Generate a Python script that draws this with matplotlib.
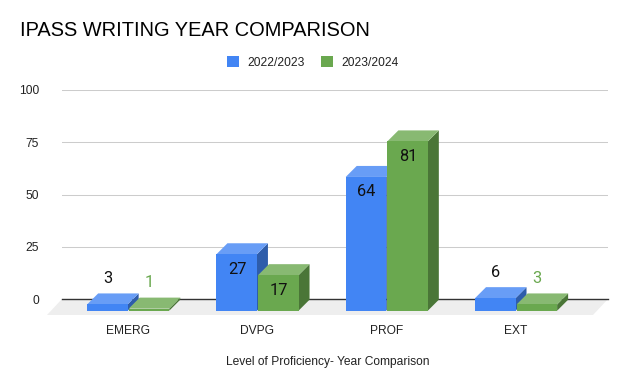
import matplotlib
matplotlib.use("Agg")
import matplotlib.pyplot as plt
from matplotlib.patches import Patch

categories = ["EMERG", "DVPG", "PROF", "EXT"]
values_2223 = [3, 27, 64, 6]
values_2324 = [1, 17, 81, 3]
series_names = ["2022/2023", "2023/2024"]
yticks = [0, 25, 50, 75, 100]

W, H = 628, 387
# axes box in pixels
left, right, top, bottom = 62, 608, 90, 299

fig = plt.figure(figsize=(W / 100, H / 100), dpi=100)
ax = fig.add_axes([left / W, 1 - bottom / H, (right - left) / W, (bottom - top) / H])
ax.set_xlim(-0.512, 3.711)
ax.set_ylim(0, 100)

px_x = (right - left) / (3.711 + 0.512)
px_y = (bottom - top) / 100.0

depth_x = 11 / px_x
depth_y = 11 / px_y
base = -11.7 / px_y
bar_w = 40.5 / px_x
offset = 20.8 / px_x


def draw_bar(x, v, front, roof, side, label_col):
    x0 = x - bar_w / 2
    x1 = x + bar_w / 2
    y1 = base + v
    ax.fill([x1, x1 + depth_x, x1 + depth_x, x1],
            [base, base + depth_y, y1 + depth_y, y1],
            color=side, lw=0, clip_on=False, zorder=3)
    ax.fill([x0, x0 + depth_x, x1 + depth_x, x1],
            [y1, y1 + depth_y, y1 + depth_y, y1],
            color=roof, lw=0, clip_on=False, zorder=3)
    ax.fill([x0, x1, x1, x0], [base, base, y1, y1],
            color=front, lw=0, clip_on=False, zorder=3)
    # big bars carry the label inside, small ones above
    if v > 10:
        ax.annotate(str(v), (x, y1), xytext=(0.3, -15 * 0.72), textcoords="offset points",
                    ha="center", va="center", fontsize=11.8, family="Roboto",
                    color="#111111", zorder=5, annotation_clip=False)
    else:
        ax.annotate(str(v), (x, y1), xytext=(0, 26 * 0.72), textcoords="offset points",
                    ha="center", va="center", fontsize=11.8, family="Roboto",
                    color=label_col, zorder=5, annotation_clip=False)


# grid, floor, baseline
ax.grid(axis="y", color="#cccccc", lw=0.75)
ax.set_axisbelow(True)
floor_y = -16 / px_y
xl = ax.get_xlim()
ax.fill([xl[0], xl[1], xl[1] - 15 / px_x, xl[0] - 15 / px_x],
        [0, 0, floor_y, floor_y], color="#eeeeee", lw=0, clip_on=False, zorder=2)
ax.axhline(0, color="#333333", lw=1.0, zorder=2.5, clip_on=False)

for i in range(len(categories)):
    draw_bar(i - offset, values_2223[i], "#4285f4", "#689df6", "#2e5dab", "#111111")
    draw_bar(i + offset, values_2324[i], "#6aa84f", "#88b972", "#4a7637", "#6aa84f")

for s in ax.spines.values():
    s.set_visible(False)

ax.set_xticks(range(len(categories)))
ax.set_xticklabels(categories, family="Liberation Sans", fontsize=8.64, color="#222222")
ax.set_yticks(yticks)
ax.set_yticklabels([str(t) for t in yticks], family="Liberation Sans", fontsize=8.64, color="#222222")
ax.tick_params(axis="x", length=0, pad=18.5)
ax.tick_params(axis="y", length=0, pad=16.5)
ax.set_xlabel("Level of Proficiency- Year Comparison", family="Liberation Sans", fontsize=8.64,
              color="#222222", labelpad=14.2, x=0.487)

fig.text(20 / W, 1 - 30 / H, "IPASS WRITING YEAR COMPARISON", family="Liberation Sans",
         fontsize=14.4, color="black", va="center", ha="left")

handles = [Patch(color="#4285f4", lw=0), Patch(color="#6aa84f", lw=0)]
fig.legend(handles, series_names, loc="center", bbox_to_anchor=(313 / W, 1 - 62.5 / H),
           ncols=2, frameon=False, prop={"family": "Liberation Sans", "size": 8.64},
           labelcolor="#222222", handlelength=1.0, handleheight=1.0,
           handletextpad=0.7, columnspacing=1.4)

fig.savefig("out.png", dpi=100)
